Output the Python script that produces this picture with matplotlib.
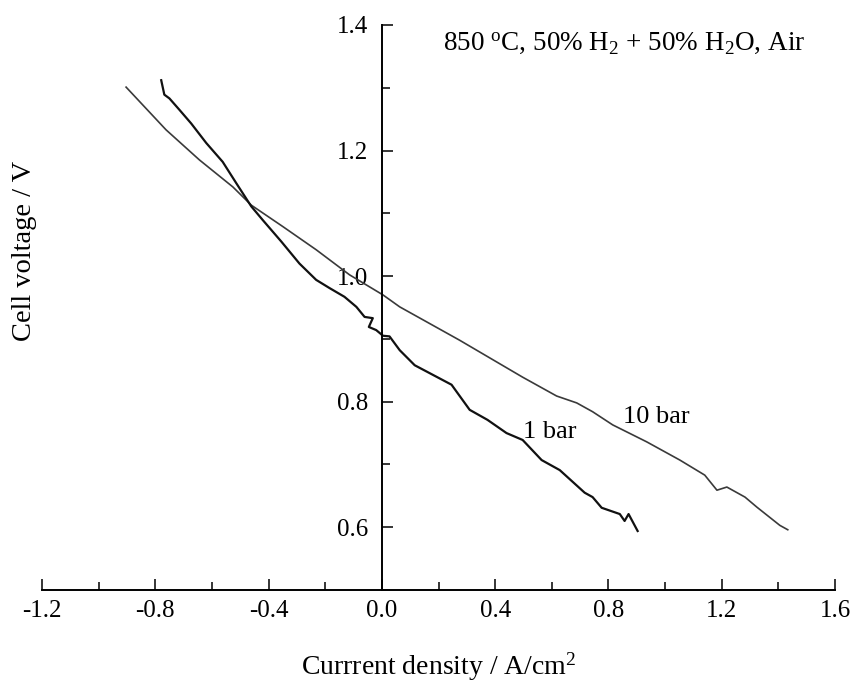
import matplotlib
matplotlib.use('Agg')
import matplotlib.pyplot as plt
from matplotlib.ticker import MultipleLocator, FormatStrFormatter

plt.rcParams['font.family'] = ['Liberation Serif', 'DejaVu Serif']
plt.rcParams['mathtext.fontset'] = 'custom'
plt.rcParams['mathtext.rm'] = 'Liberation Serif'
plt.rcParams['mathtext.it'] = 'Liberation Serif:italic'

# 1 bar curve (current density A/cm2, cell voltage V)
j_1bar = [-0.779, -0.768, -0.750, -0.715, -0.673, -0.620, -0.562, -0.514, -0.461,
          -0.420, -0.355, -0.291, -0.232, -0.185, -0.132, -0.090, -0.061, -0.032,
          -0.046, -0.020, 0.004, 0.027, 0.063, 0.116, 0.246, 0.310, 0.373, 0.440,
          0.497, 0.564, 0.628, 0.716, 0.744, 0.776, 0.840, 0.857, 0.871, 0.903]
v_1bar = [1.312, 1.289, 1.283, 1.265, 1.243, 1.212, 1.182, 1.148, 1.111,
          1.089, 1.055, 1.020, 0.994, 0.981, 0.967, 0.951, 0.935, 0.933,
          0.919, 0.914, 0.905, 0.904, 0.882, 0.858, 0.827, 0.787, 0.771, 0.750,
          0.739, 0.707, 0.691, 0.655, 0.648, 0.631, 0.621, 0.610, 0.621, 0.594]

# 10 bar curve
j_10bar = [-0.903, -0.762, -0.644, -0.526, -0.461, -0.350, -0.232, -0.114, 0.004,
           0.063, 0.274, 0.497, 0.617, 0.688, 0.744, 0.815, 0.935, 1.052, 1.140,
           1.183, 1.218, 1.282, 1.324, 1.405, 1.433]
v_10bar = [1.301, 1.233, 1.185, 1.142, 1.113, 1.079, 1.042, 1.002, 0.970,
           0.951, 0.898, 0.839, 0.809, 0.798, 0.784, 0.763, 0.736, 0.707, 0.683,
           0.659, 0.664, 0.648, 0.632, 0.603, 0.596]

fig = plt.figure(figsize=(8.6, 6.84), dpi=100)
ax = fig.add_axes([0.0488, 0.1374, 0.9222, 0.8261])

ax.plot(j_10bar, v_10bar, color='#3a3a3a', lw=1.2)
ax.plot(j_1bar, v_1bar, color='#111111', lw=1.6)

ax.set_xlim(-1.2, 1.6)
ax.set_ylim(0.5, 1.4)

ax.spines['top'].set_visible(False)
ax.spines['right'].set_visible(False)
ax.spines['left'].set_position(('data', 0))
for s in ('left', 'bottom'):
    ax.spines[s].set_linewidth(1.4)

ax.xaxis.set_major_locator(MultipleLocator(0.4))
ax.xaxis.set_minor_locator(MultipleLocator(0.2))
ax.yaxis.set_minor_locator(MultipleLocator(0.1))
ax.set_yticks([0.6, 0.8, 1.0, 1.2, 1.4])
ax.xaxis.set_major_formatter(FormatStrFormatter('%.1f'))
ax.yaxis.set_major_formatter(FormatStrFormatter('%.1f'))

ax.tick_params(which='major', direction='in', length=8, width=1.1, labelsize=18)
ax.tick_params(which='minor', direction='in', length=5.5, width=1.1)
ax.tick_params(axis='y', which='major', pad=10)
ax.tick_params(axis='x', which='major', pad=7)

ax.set_xlabel('Currrent density / A/cm$^2$', fontsize=20, labelpad=21)
ax.set_ylabel('Cell voltage / V', fontsize=20.5)
ax.yaxis.set_label_coords(-0.006, 0.6)

ax.text(0.215, 1.371, r'850 $^{\rm o}$C, 50% H$_2$ + 50% H$_2$O, Air',
        fontsize=19.5, ha='left', va='center')
ax.text(0.497, 0.752, '1 bar', fontsize=19, ha='left', va='center')
ax.text(0.851, 0.776, '10 bar', fontsize=19, ha='left', va='center')

fig.savefig('out.png', dpi=100, facecolor='white')
